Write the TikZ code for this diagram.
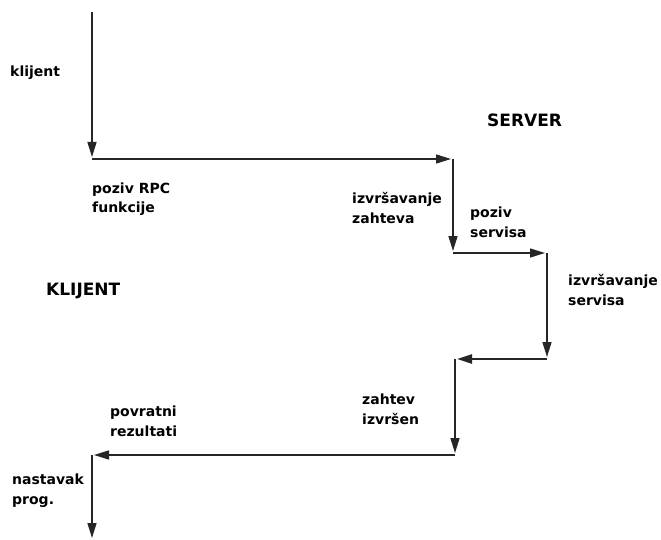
\documentclass[tikz,border=0pt]{standalone}
\usepackage{fontspec}
\setmainfont{DejaVu Sans}
\usetikzlibrary{arrows.meta}
\tikzset{
  flow/.style={line width=1.5pt, draw=black!85, -{Triangle[length=15pt,width=9pt]}, shorten >=2pt},
  lbl/.style={anchor=base west, inner sep=0pt, align=left, font=\fontsize{14}{20}\selectfont\bfseries},
  title/.style={anchor=base west, inner sep=0pt, font=\fontsize{17}{20}\selectfont\bfseries}
}
\begin{document}
\begin{tikzpicture}[x=1pt,y=-1pt]
\useasboundingbox (0,0) rectangle (661,540);
\coordinate (A) at (92,12);
\coordinate (B) at (92,159);
\coordinate (C) at (453,159);
\coordinate (D) at (453,253);
\coordinate (E) at (547,253);
\coordinate (F) at (547,359);
\coordinate (G) at (455,359);
\coordinate (H) at (455,455);
\coordinate (I) at (92,455);
\coordinate (J) at (92,538);
\draw[flow] (A) -- (B);
\draw[flow] (B) -- (C);
\draw[flow] (C) -- (D);
\draw[flow] (D) -- (E);
\draw[flow] (E) -- (F);
\draw[flow, line width=2.5pt] (F) -- (G);
\draw[flow] (G) -- (H);
\draw[flow] (H) -- (I);
\draw[flow, shorten >=0pt] (I) -- (J);
\node[lbl] (l1) at (10,77) {klijent};
\node[lbl] (l2) at (92,213) {poziv RPC\\funkcije};
\node[lbl] (l3) at (352,223) {izvršavanje\\zahteva};
\node[lbl] (l4) at (470,237) {poziv\\servisa};
\node[lbl] (l5) at (568,305) {izvršavanje\\servisa};
\node[lbl] (l6) at (362,424) {zahtev\\izvršen};
\node[lbl] (l7) at (110,436) {povratni\\rezultati};
\node[lbl] (l8) at (12,504) {nastavak\\prog.};
\node[title] (srv) at (487,127) {SERVER};
\node[title] (kl) at (46,295) {KLIJENT};
\end{tikzpicture}
\end{document}
